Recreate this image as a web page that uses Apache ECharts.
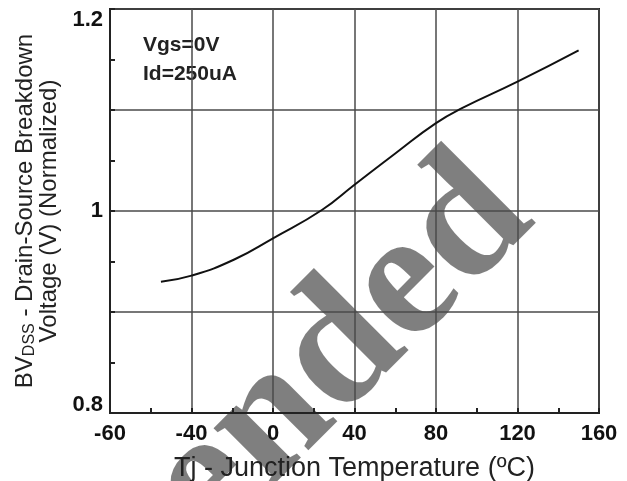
<!DOCTYPE html>
<html>
<head>
<meta charset="utf-8">
<script src="https://cdn.jsdelivr.net/npm/echarts@6/dist/echarts.min.js"></script>
<style>
  html, body { margin: 0; padding: 0; background: #fff; }
  #main { width: 627px; height: 481px; }
</style>
</head>
<body>
<div id="main"></div>
<script>
// curve
const temps = [-55, -40, -19, 0, 24, 40, 60, 80, 93, 120, 150];
const bvdss = [0.930, 0.936, 0.952, 0.973, 1.001, 1.026, 1.057, 1.087, 1.102, 1.128, 1.159];

// tick labels as printed (first one says -60 in the original)
const xTickLabels = ['-60', '-40', '0', '40', '80', '120', '160'];
const yTickLabels = ['0.8', '', '1', '', '1.2'];

const noteLines = ['Vgs=0V', 'Id=250uA'];

const myChart = echarts.init(document.getElementById('main'));

const labelFont = {
    fontFamily: 'Liberation Sans, Arial, sans-serif',
    fontWeight: 'bold',
    fontSize: 22,
    color: '#111'
};

// end labels of the y axis sit inside the frame
const yRich = {
    lo: Object.assign({}, labelFont, { padding: [0, 0, 16, 0] }),
    mid: Object.assign({}, labelFont),
    hi: Object.assign({}, labelFont, { padding: [22, 0, 0, 0] })
};

const options = {
    animation: false,
    grid: {
        left: 110, right: 28, top: 9, bottom: 68,
        outerBoundsMode: 'none',
        containLabel: false,
        show: true,
        borderColor: '#222',
        borderWidth: 2
    },
    xAxis: {
        type: 'value',
        min: -80, max: 160, interval: 40,
        name: 'Tj - Junction Temperature (ºC)',
        nameLocation: 'middle',
        nameGap: 42,
        nameTextStyle: {
            fontFamily: 'Liberation Sans, Arial, sans-serif',
            fontSize: 27,
            color: '#222'
        },
        axisLine: { onZero: false, lineStyle: { color: '#222', width: 2 } },
        axisTick: { inside: true, length: 5, lineStyle: { color: '#222', width: 2 } },
        minorTick: { show: true, splitNumber: 2, length: 5, lineStyle: { color: '#222', width: 2 } },
        axisLabel: Object.assign({}, labelFont, {
            margin: 10,
            formatter: (v) => xTickLabels[Math.round((v + 80) / 40)]
        }),
        splitLine: { show: true, lineStyle: { color: '#4a4a4a', width: 1.5 } }
    },
    yAxis: {
        type: 'value',
        min: 0.8, max: 1.2, interval: 0.1,
        name: '{t|BV}{s|DSS}{t| - Drain-Source Breakdown}\n{t|Voltage (V) (Normalized)}',
        nameLocation: 'middle',
        nameRotate: 90,
        nameGap: 43,
        nameTextStyle: {
            align: 'center',
            rich: {
                t: { fontFamily: 'Liberation Sans, Arial, sans-serif', fontSize: 24, color: '#222', lineHeight: 24 },
                s: { fontFamily: 'Liberation Sans, Arial, sans-serif', fontSize: 16, color: '#222', lineHeight: 20, verticalAlign: 'bottom' }
            }
        },
        axisLine: { show: true, onZero: false, lineStyle: { color: '#222', width: 2 } },
        axisTick: { show: true, inside: true, length: 5, lineStyle: { color: '#222', width: 2 } },
        minorTick: { show: true, splitNumber: 2, length: 5, lineStyle: { color: '#222', width: 2 } },
        axisLabel: Object.assign({}, labelFont, {
            margin: 7,
            rich: yRich,
            formatter: (v) => {
                const i = Math.round((v - 0.8) / 0.1);
                const txt = yTickLabels[i];
                if (!txt) return '';
                const key = i === 0 ? 'lo' : (i === yTickLabels.length - 1 ? 'hi' : 'mid');
                return '{' + key + '|' + txt + '}';
            }
        }),
        splitLine: { show: true, lineStyle: { color: '#4a4a4a', width: 1.5 } }
    },
    graphic: [
        {
            type: 'text',
            left: 143, top: 31,
            style: {
                text: noteLines.join('\n'),
                fontFamily: 'Liberation Sans, Arial, sans-serif',
                fontWeight: 'bold',
                fontSize: 21,
                lineHeight: 29,
                fill: '#222'
            }
        },
        {
            type: 'text',
            x: 568, y: 252,
            rotation: Math.PI / 4,
            silent: true,
            style: {
                text: 'Recommended',
                fontFamily: 'Liberation Serif, Times New Roman, serif',
                fontWeight: 'bold',
                fontSize: 180,
                textAlign: 'right',
                textVerticalAlign: 'bottom',
                fill: 'rgba(0,0,0,0.5)'
            }
        }
    ],
    series: [
        {
            type: 'line',
            data: temps.map((t, i) => [t, bvdss[i]]),
            smooth: true,
            showSymbol: false,
            lineStyle: { color: '#111', width: 2 }
        }
    ]
};

myChart.setOption(options);
</script>
</body>
</html>
